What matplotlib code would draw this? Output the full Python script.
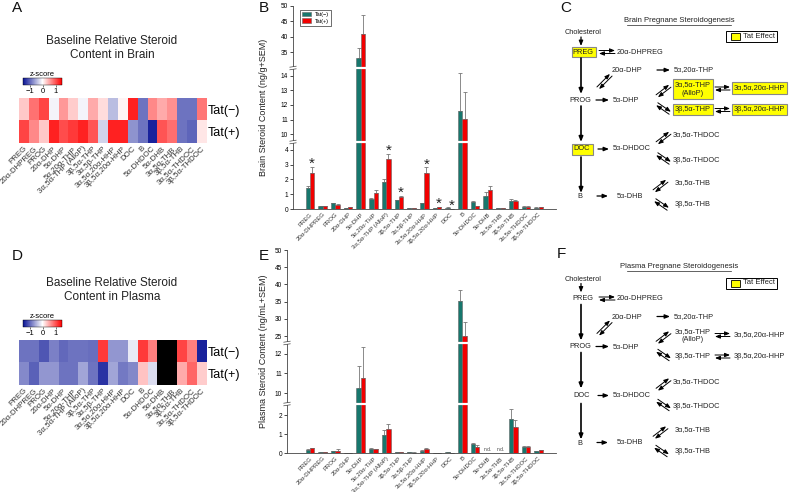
import numpy as np
import matplotlib
matplotlib.use("Agg")
import matplotlib.pyplot as plt
from matplotlib.colors import LinearSegmentedColormap
from matplotlib.patches import Rectangle
import matplotlib.transforms as mtrans

plt.rcParams['font.family'] = ['Liberation Sans', 'DejaVu Sans']

W, H = 789, 492

steroids = ['PREG', '20α-DHPREG', 'PROG', '20α-DHP', '5α-DHP', '5α,20α-THP',
            '3α,5α-THP (AlloP)', '3β,5α-THP', '3α,5β-THP', '3α,5α,20α-HHP',
            '3β,5α,20α-HHP', 'DOC', 'B', '5α-DHDOC', '5α-DHB', '3α,5α-THB',
            '3β,5α-THB', '3α,5α-THDOC', '3β,5α-THDOC']
groups = ['Tat(−)', 'Tat(+)']

# z-scores (heatmaps)
brain_z_neg = [0.32, 0.83, 1.1, -0.07, 0.6, 0.3, -0.07, 0.5, 0.2, -0.42,
               0.06, 1.3, -0.89, 0.7, 0.5, 0.65, -0.89, -0.89, 0.8]
brain_z_pos = [1.1, 0.7, 0.32, 1.3, 1.05, 1.15, 1.3, 1.0, -0.27, 1.3,
               1.3, -0.68, -0.89, -1.4, 1.0, 0.85, -0.89, -0.98, 0.15]
plasma_z_neg = [-0.89, -0.89, -1.07, -0.8, -0.95, -0.89, -0.89, -0.92, 1.15, -0.66,
                -0.66, -0.14, 1.15, 0.75, np.nan, np.nan, 1.1, 0.75, -1.4]
plasma_z_pos = [-0.74, -1.0, -0.66, -0.66, -0.89, -0.89, -0.57, -0.89, -1.3, -0.57,
                -0.85, -0.76, 0.35, -0.22, np.nan, np.nan, 0.5, 0.9, 0.3]

# brain content (ng/g) and SEM
brain_neg = [1.45, 0.2, 0.38, 0.07, 33.0, 0.65, 1.8, 0.58, 0.05, 0.38,
             0.08, 0.09, 11.6, 0.45, 0.9, 0.06, 0.55, 0.15, 0.1]
brain_neg_sem = [0.1, 0.02, 0.03, 0.01, 3.2, 0.1, 0.25, 0.05, 0.01, 0.03,
                 0.01, 0.02, 2.6, 0.12, 0.28, 0.01, 0.1, 0.03, 0.02]
brain_pos = [2.45, 0.2, 0.28, 0.13, 41.0, 1.07, 3.4, 0.78, 0.05, 2.42,
             0.14, 0.02, 11.05, 0.18, 1.32, 0.06, 0.52, 0.15, 0.13]
brain_pos_sem = [0.4, 0.02, 0.03, 0.01, 6.2, 0.2, 0.35, 0.1, 0.01, 0.4,
                 0.02, 0.01, 1.85, 0.03, 0.22, 0.01, 0.06, 0.03, 0.02]
brain_sig = ['PREG', '3α,5α-THP (AlloP)', '3β,5α-THP', '3α,5α,20α-HHP',
             '3β,5α,20α-HHP', 'DOC']

# plasma content (ng/mL) and SEM, nan = n.d.
plasma_neg = [0.17, 0.06, 0.1, 0.01, 10.25, 0.22, 0.97, 0.04, 0.05, 0.12,
              0.01, 0.04, 35.2, 0.5, np.nan, np.nan, 1.8, 0.3, 0.08]
plasma_neg_sem = [0.02, 0.01, 0.02, 0.0, 1.15, 0.03, 0.25, 0.01, 0.01, 0.02,
                  0.0, 0.01, 3.1, 0.02, np.nan, np.nan, 0.5, 0.07, 0.01]
plasma_pos = [0.25, 0.05, 0.13, 0.01, 10.75, 0.2, 1.27, 0.04, 0.02, 0.2,
              0.01, 0.0, 24.9, 0.32, np.nan, np.nan, 1.38, 0.3, 0.15]
plasma_pos_sem = [0.03, 0.01, 0.07, 0.0, 1.6, 0.02, 0.27, 0.01, 0.01, 0.04,
                  0.0, 0.0, 4.2, 0.1, np.nan, np.nan, 0.35, 0.07, 0.03]

TEAL = '#17776d'
RED = '#f20000'

fig = plt.figure(figsize=(W / 100, H / 100), dpi=100)


def px_axes(x0, y0, w, h):
    return fig.add_axes([x0 / W, 1 - (y0 + h) / H, w / W, h / H])


cmap = LinearSegmentedColormap.from_list('zs', ['#0a1496', '#ffffff', '#ff0000'])
cmap.set_bad('black')


# ---------- heatmaps ----------
def heatmap(y0, title, zneg, zpos):
    ax = px_axes(19, y0, 187, 45)
    data = np.array([zneg, zpos])
    im = ax.imshow(np.ma.masked_invalid(data), cmap=cmap, vmin=-1.5, vmax=1.5,
                   aspect='auto', interpolation='nearest')
    ax.set_xticks(range(len(steroids)))
    ax.set_xticklabels(steroids, rotation=45, ha='right', va='top',
                       rotation_mode='anchor', fontsize=5.7, color='#333333')
    ax.set_yticks([0, 1])
    ax.yaxis.tick_right()
    ax.set_yticklabels(groups, fontsize=9)
    ax.tick_params(axis='both', length=0, pad=1.5)
    for s in ax.spines.values():
        s.set_visible(False)
    fig.text(112 / W, 1 - (y0 - 50) / H, title, ha='center', va='center',
             fontsize=8.5, color='#222222', linespacing=1.15)
    cax = px_axes(23, y0 - 20, 39, 7)
    cb = fig.colorbar(im, cax=cax, orientation='horizontal', ticks=[-1, 0, 1])
    cb.outline.set_linewidth(0.3)
    cb.ax.tick_params(labelsize=5.5, length=1.5, width=0.4, pad=1)
    cb.ax.set_title('z-score', fontsize=5.5, pad=1)


heatmap(98, 'Baseline Relative Steroid\nContent in Brain', brain_z_neg, brain_z_pos)
heatmap(340, 'Baseline Relative Steroid\nContent in Plasma', plasma_z_neg, plasma_z_pos)


# ---------- bar charts with broken axis ----------
def bar_panel(rect, xlo, xhi, neg, neg_sem, pos, pos_sem, sig,
              vals, hts, ticks, ylabel, legend):
    ax = px_axes(*rect)
    fwd = lambda v: np.interp(v, vals, hts)
    inv = lambda h: np.interp(h, hts, vals)
    ax.set_yscale('function', functions=(fwd, inv))
    x = np.arange(len(steroids))
    bw = 0.34
    neg = np.array(neg, float)
    pos = np.array(pos, float)
    ax.bar(x - bw / 2, neg, bw, color=TEAL, edgecolor='#666666', linewidth=0.4,
           label=groups[0], zorder=2)
    ax.bar(x + bw / 2, pos, bw, color=RED, edgecolor='#666666', linewidth=0.4,
           label=groups[1], zorder=2)
    ax.errorbar(x - bw / 2, neg, yerr=[np.zeros(len(x)), neg_sem], fmt='none',
                ecolor='#777777', elinewidth=0.6, capsize=1.5, capthick=0.6, zorder=1)
    ax.errorbar(x + bw / 2, pos, yerr=[np.zeros(len(x)), pos_sem], fmt='none',
                ecolor='#777777', elinewidth=0.6, capsize=1.5, capthick=0.6, zorder=1)
    for i, name in enumerate(steroids):
        if name in sig:
            ax.annotate('*', xy=(i + bw / 2, pos[i] + pos_sem[i]), xytext=(0, -3),
                        textcoords='offset points', ha='center', va='bottom',
                        fontsize=11, color='#222222')
        if np.isnan(neg[i]):
            ax.annotate('n.d.', xy=(i, 0), xytext=(0, 1), textcoords='offset points',
                        ha='center', va='bottom', fontsize=3.5, color='#444444')
    ax.set_ylim(0, 50)
    ax.set_xlim(xlo, xhi)
    ax.set_yticks(ticks)
    ax.set_yticklabels([str(t) for t in ticks])
    ax.set_xticks(x)
    ax.set_xticklabels(steroids, rotation=45, ha='right', va='top',
                       rotation_mode='anchor', fontsize=4.3, color='#333333')
    ax.tick_params(axis='x', length=0, pad=2)
    ax.tick_params(axis='y', length=2, width=0.5, labelsize=4.7, pad=1.5)
    for s in ['top', 'right']:
        ax.spines[s].set_visible(False)
    for s in ['left', 'bottom']:
        ax.spines[s].set_linewidth(0.6)
        ax.spines[s].set_color('#444444')
    # axis breaks
    blend = mtrans.blended_transform_factory(ax.transAxes, ax.transData)
    for k in (1, 3):
        hb = hts[k]
        ax.axhline(inv(hb), color='white', lw=1.6, zorder=4)
        for dh in (-1.3, 1.3):
            ax.plot([-0.012, 0.012], [inv(hb + dh - 0.5), inv(hb + dh + 0.5)],
                    transform=blend, color='#444444', lw=0.5, clip_on=False, zorder=5)
    ax.set_ylabel(ylabel, fontsize=6.5, color='#222222')
    ax.yaxis.set_label_coords((268 - rect[0]) / rect[2], 0.5)
    if legend:
        ax.legend(loc='upper left', bbox_to_anchor=(0.015, 0.995), fontsize=4,
                  frameon=True, fancybox=False, edgecolor='black', framealpha=1,
                  handlelength=1.6, handleheight=0.9, borderpad=0.35,
                  labelspacing=0.25).get_frame().set_linewidth(0.4)
    return ax


bar_panel((293, 6, 263, 203), -1.34, 19.37, brain_neg, brain_neg_sem,
          brain_pos, brain_pos_sem, brain_sig,
          [0, 4.54, 9.45, 14.55, 29.8, 50], [0, 67, 67.01, 141, 141.01, 203],
          [0, 1, 2, 3, 4, 10, 11, 12, 13, 14, 35, 40, 45, 50],
          'Brain Steroid Content (ng/g+SEM)', True)
bar_panel((287, 250, 269, 203), -1.81, 19.37, plasma_neg, plasma_neg_sem,
          plasma_pos, plasma_pos_sem, [],
          [0, 2.58, 9.44, 12.56, 22.97, 50], [0, 49, 49.01, 110, 110.01, 203],
          [0, 1, 2, 10, 11, 12, 25, 30, 35, 40, 45, 50],
          'Plasma Steroid Content (ng/mL+SEM)', False)


# ---------- pathway diagrams ----------
nodes = [
    ('Cholesterol', 583, 33, 'center'),
    ('PREG', 583, 52, 'center'),
    ('20α-DHPREG', 617, 52, 'left'),
    ('20α-DHP', 627, 71, 'center'),
    ('5α,20α-THP', 674, 70, 'left'),
    ('PROG', 580, 100, 'center'),
    ('5α-DHP', 626, 101, 'center'),
    ('3α,5α-THP\n(AlloP)', 693, 89, 'center'),
    ('3α,5α,20α-HHP', 759.5, 88, 'center'),
    ('3β,5α-THP', 693, 109.5, 'center'),
    ('3β,5α,20α-HHP', 759.5, 109.5, 'center'),
    ('DOC', 582, 149, 'center'),
    ('5α-DHDOC', 632, 149, 'center'),
    ('3α,5α-THDOC', 673, 135, 'left'),
    ('3β,5α-THDOC', 673, 160, 'left'),
    ('B', 580, 197, 'center'),
    ('5α-DHB', 630, 196, 'center'),
    ('3α,5α-THB', 675, 183, 'left'),
    ('3β,5α-THB', 675, 205, 'left'),
]
tat_boxes = {
    'PREG': (572, 47, 24, 10),
    'DOC': (572, 143.5, 21, 11),
    '3α,5α-THP\n(AlloP)': (673, 79, 40, 20),
    '3α,5α,20α-HHP': (732, 82, 55, 12),
    '3β,5α-THP': (673, 104, 40, 11),
    '3β,5α,20α-HHP': (732, 104, 55, 11),
}
single_arrows = [(581, 37, 581, 46, 0.9), (581, 58, 581, 94, 1.2),
                 (596, 100, 609, 100, 0.9), (657, 70, 670, 70, 0.9),
                 (581, 106, 581, 142, 1.2), (598, 149, 609, 149, 0.9),
                 (581, 157, 581, 193, 1.2), (597, 196, 608, 196, 0.9)]
double_arrows = [(599, 52, 615, 52), (598, 88, 611, 75),
                 (657, 96, 670, 86), (657, 104, 670, 113),
                 (715, 88.5, 730, 88.5), (715, 110, 730, 110),
                 (657, 143, 670, 133), (657, 154, 670, 163),
                 (654, 191, 667, 181), (655, 200, 668, 209)]


def arrow(ax, x1, y1, x2, y2, lw=0.8):
    ax.annotate('', xy=(x2, y2), xytext=(x1, y1),
                arrowprops=dict(arrowstyle='-|>,head_length=0.5,head_width=0.2',
                                mutation_scale=6, color='black', lw=lw,
                                shrinkA=0, shrinkB=0))


def pathway(y0, title, boxed):
    ax = px_axes(520, y0, 269, 246)
    ax.set_xlim(520, 789)
    ax.set_ylim(246, 0)
    ax.axis('off')
    ax.text(679, 20, title, ha='center', va='center', fontsize=5.5, color='#222222')
    ax.plot([627, 731], [24.5, 24.5], color='#222222', lw=0.5)
    # legend box
    ax.add_patch(Rectangle((726, 31), 51, 11, fc='white', ec='black', lw=0.7))
    ax.add_patch(Rectangle((731, 33), 9, 7, fc='#ffff00', ec='black', lw=0.6))
    ax.text(743, 36.5, 'Tat Effect', ha='left', va='center', fontsize=5.5, color='#222222')
    for name, (bx, by, bw, bh) in tat_boxes.items():
        if boxed:
            ax.add_patch(Rectangle((bx, by), bw, bh, fc='#ffff00', ec='#888888', lw=0.8))
    for label, x, y, ha in nodes:
        ax.text(x, y, label, ha=ha, va='center', fontsize=5.3, color='#222222',
                linespacing=1.3)
    for x1, y1, x2, y2, lw in single_arrows:
        arrow(ax, x1, y1, x2, y2, lw)
    for x1, y1, x2, y2 in double_arrows:
        d = np.hypot(x2 - x1, y2 - y1)
        nx, ny = (y2 - y1) / d * 1.5, -(x2 - x1) / d * 1.5
        arrow(ax, x1 + nx, y1 + ny, x2 + nx, y2 + ny, 0.7)
        arrow(ax, x2 - nx, y2 - ny, x1 - nx, y1 - ny, 0.7)


pathway(0, 'Brain Pregnane Steroidogenesis', True)
pathway(246.5, 'Plasma Pregnane Steroidogenesis', False)

# panel letters
for letter, x, y in [('A', 12, 8), ('B', 259, 8), ('C', 560, 8),
                     ('D', 12, 256), ('E', 259, 256), ('F', 557, 254)]:
    fig.text(x / W, 1 - y / H, letter, ha='left', va='center', fontsize=11, color='#111111')

fig.savefig('out.png', dpi=100)
